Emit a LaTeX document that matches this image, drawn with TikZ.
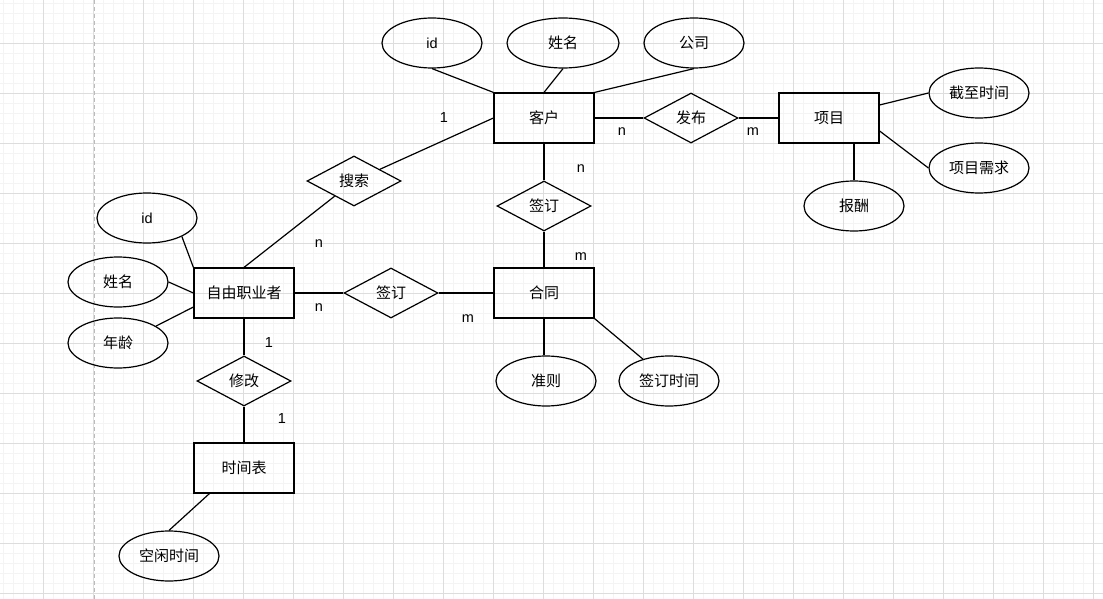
\documentclass[tikz,border=0pt]{standalone}
\usepackage{fontspec}
\setmainfont{Liberation Sans}
\newfontfamily\cjk{Noto Sans CJK SC}
\usetikzlibrary{shapes.geometric,calc}
\definecolor{minorgrid}{HTML}{F4F4F4}
\definecolor{majorgrid}{HTML}{DDDDDD}
\definecolor{dashcol}{HTML}{BBBBBB}
\begin{document}
\begin{tikzpicture}[x=1pt,y=-1pt,line width=1.2pt,
  cnfont/.style={font=\cjk\fontsize{15}{17}\selectfont},
  ent/.style={draw,rectangle,minimum width=100pt,minimum height=50pt,inner sep=0pt,cnfont},
  attr/.style={draw,ellipse,minimum width=100pt,minimum height=50pt,inner sep=0pt,cnfont},
  rel/.style={draw,diamond,minimum width=94pt,minimum height=50pt,inner sep=0pt,cnfont},
  latin/.style={font=\fontsize{14.5}{16}\selectfont},
  card/.style={inner sep=0pt,font=\fontsize{14.5}{16}\selectfont}]
\fill[white] (0,0) rectangle (1103,599);
\useasboundingbox (0,0) rectangle (1103,599);
% grid
\foreach \x in {3,13,...,1103} \draw[minorgrid,line width=0.6pt] (\x,0) -- (\x,599);
\foreach \y in {3,13,...,593} \draw[minorgrid,line width=0.6pt] (0,\y) -- (1103,\y);
\foreach \x in {43,93,...,1093} \draw[majorgrid,line width=0.8pt] (\x,0) -- (\x,599);
\foreach \y in {43,93,...,593} \draw[majorgrid,line width=0.8pt] (0,\y) -- (1103,\y);
\draw[dashcol,line width=0.8pt,dash pattern=on 4pt off 3pt] (94,0) -- (94,599);

% entities
\node[ent] (kh) at (544,118) {客户};
\node[ent] (xm) at (829,118) {项目};
\node[ent] (ht) at (544,293) {合同};
\node[ent] (zy) at (244,293) {自由职业者};
\node[ent] (sjb) at (244,468) {时间表};

% relations
\node[rel] (fb) at (691,118) {发布};
\node[rel] (qd1) at (544,206) {签订};
\node[rel] (qd2) at (391,293) {签订};
\node[rel] (ss) at (354,181) {搜索};
\node[rel] (xg) at (244,381) {修改};

% attributes
\node[attr,latin] (khid) at (432,43) {id};
\node[attr,minimum width=112pt] (khxm) at (563,43) {姓名};
\node[attr] (khgs) at (694,43) {公司};
\node[attr] (jz) at (979,93) {截至时间};
\node[attr] (xq) at (979,168) {项目需求};
\node[attr] (bc) at (854,206) {报酬};
\node[attr] (zz) at (546,381) {准则};
\node[attr] (qdsj) at (669,381) {签订时间};
\node[attr,latin] (zyid) at (147,218) {id};
\node[attr] (zyxm) at (118,282) {姓名};
\node[attr] (zynl) at (118,343) {年龄};
\node[attr] (kx) at (169,556) {空闲时间};

% attribute links
\draw (khid.south) -- (kh.north west);
\draw (khxm.south) -- (kh.north);
\draw (khgs.south) -- (kh.north east);
\draw ([yshift=13pt]xm.east) -- (jz.west);
\draw ([yshift=-13pt]xm.east) -- (xq.west);
\draw (bc.north) -- (bc.north |- xm.south);
\draw (ht.south) -- (ht.south |- zz.north);
\draw (ht.south east) -- (qdsj.140);
\draw (zyid.-28) -- (zy.north west);
\draw (zyxm.east) -- (zy.west);
\draw (zynl.24) -- ([yshift=-14pt]zy.west);
\draw ([xshift=16pt]sjb.south west) -- (kx.north);

% relationship links
\draw (kh.east) -- (fb.west);
\draw (fb.east) -- (xm.west);
\draw (kh.south) -- (qd1.north);
\draw (qd1.south) -- (ht.north);
\draw (zy.east) -- (qd2.west);
\draw (qd2.east) -- (ht.west);
\draw (zy.south) -- (xg.north);
\draw (xg.south) -- (sjb.north);
\draw (zy.north) -- (ss);
\draw (ss) -- (kh.west);

% cardinalities
\node[card] (c1) at (444,118) {1};
\node[card] (c2) at (622,132) {n};
\node[card] (c3) at (753,132) {m};
\node[card] (c4) at (581,169) {n};
\node[card] (c5) at (581,257) {m};
\node[card] (c6) at (319,244) {n};
\node[card] (c7) at (319,308) {n};
\node[card] (c8) at (468,319) {m};
\node[card] (c9) at (269,343) {1};
\node[card] (c10) at (282,419) {1};
\end{tikzpicture}
\end{document}
